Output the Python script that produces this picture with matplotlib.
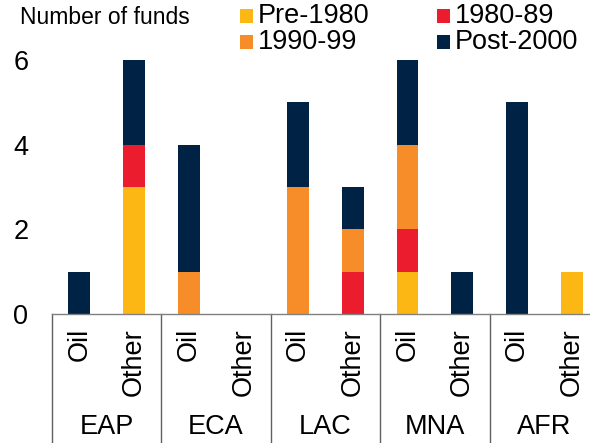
import matplotlib
matplotlib.use("Agg")
import matplotlib.pyplot as plt
import matplotlib.transforms as mtransforms
from matplotlib.patches import Rectangle
import numpy as np

plt.rcParams['font.family'] = ['Liberation Sans', 'DejaVu Sans']

regions = ["EAP", "ECA", "LAC", "MNA", "AFR"]
types = ["Oil", "Other"]
series = ["Pre-1980", "1980-89", "1990-99", "Post-2000"]
# order: EAP Oil, EAP Other, ECA Oil, ECA Other, LAC Oil, LAC Other, MNA Oil, MNA Other, AFR Oil, AFR Other
pre1980 = [0, 3, 0, 0, 0, 0, 1, 0, 0, 1]
y1980s = [0, 1, 0, 0, 0, 1, 1, 0, 0, 0]
y1990s = [0, 0, 1, 0, 3, 1, 2, 0, 0, 0]
post2000 = [1, 2, 3, 0, 2, 1, 2, 1, 5, 0]
colors = ["#FDB714", "#EB1C2D", "#F78D28", "#002244"]

fig = plt.figure(figsize=(5.9, 4.43), dpi=100)
W, H = 590, 443
left, right, y0, y6 = 52, 599, 314, 60
ax = fig.add_axes([left / W, 1 - y0 / H, (right - left) / W, (y0 - y6) / H])

x = np.arange(10)
bottom = np.zeros(10)
for vals, c, name in zip([pre1980, y1980s, y1990s, post2000], colors, series):
    v = np.array(vals, dtype=float)
    ax.bar(x, v, bottom=bottom, width=0.4, color=c, edgecolor='none', label=name)
    bottom += v

FS = 19.5
ax.set_xlim(-0.5, 9.5)
ax.set_ylim(0, 6)
ax.set_yticks([0, 2, 4, 6])
ax.tick_params(axis='y', length=0, labelsize=FS, pad=17)
ax.set_xticks([])
for s in ['top', 'right', 'left']:
    ax.spines[s].set_visible(False)
ax.spines['bottom'].set_color('#808080')
ax.spines['bottom'].set_linewidth(1)

trans = mtransforms.blended_transform_factory(ax.transData, fig.transFigure)
for i in range(10):
    ax.text(x[i], 1 - 328 / H, types[i % 2], rotation=90, ha='center', va='top',
            fontsize=FS, transform=trans)
for g, r in enumerate(regions):
    ax.text(2 * g + 0.5, 1 - 427 / H, r, ha='center', va='center', fontsize=FS,
            transform=trans)
for b in [-0.5, 1.5, 3.5, 5.5, 7.5, 9.5]:
    ax.plot([b, b], [1 - y0 / H, 0], color='#606060', lw=1, transform=trans,
            clip_on=False)

fig.text(20 / W, 1 - 17 / H, "Number of funds", fontsize=16.5, va='center', ha='left')

# legend (2 columns x 2 rows), drawn in figure pixels
leg_items = [(0, 240, 16), (2, 240, 42), (1, 437, 16), (3, 437, 42)]
for idx, lx, ly in leg_items:
    fig.patches.append(Rectangle(((lx) / W, 1 - (ly + 7) / H), 13 / W, 14 / H,
                                 transform=fig.transFigure, facecolor=colors[idx],
                                 edgecolor='none'))
    fig.text((lx + 18) / W, 1 - ly / H, series[idx], fontsize=FS, va='center',
             ha='left')

fig.savefig("out.png", dpi=100)
